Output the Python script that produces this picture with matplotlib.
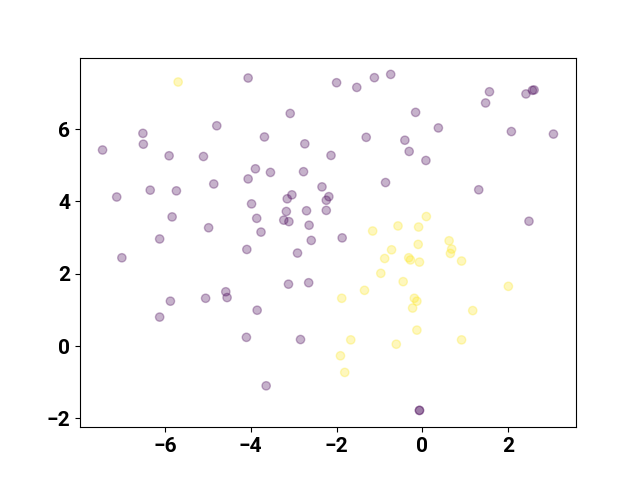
import numpy as np
import matplotlib
matplotlib.use("Agg")
import matplotlib.pyplot as plt

# cluster 0 (purple)
x_purple = [-4.06, -4.79, -6.51, -6.50, -7.45, -5.90, -5.10, -4.06, -4.86, -7.12,
            -6.34, -5.73, -3.98, -5.83, -4.98, -6.12, -4.09, -7.00, -5.87, -6.12,
            -5.05, -4.58, -4.55, -4.10, -2.00, -1.53, -1.12, -0.74, -3.08, -3.68,
            -2.74, -1.31, -0.41, -0.31, -2.13, -3.89, -3.54, -2.77, -0.86, -2.34,
            -3.04, -3.15, -2.18, -2.24, -3.17, -2.70, -2.24, -3.86, -3.23, -3.11,
            -2.64, -3.76, -2.59, -1.87, -2.91, -3.12, -2.65, -3.85, -2.84, -3.64,
            1.56, 1.47, 2.41, 2.56, 2.60, -0.16, 0.37, 0.08, 2.07, 3.05,
            1.31, 2.48, -0.07, -0.07]
y_purple = [7.41, 6.09, 5.88, 5.58, 5.42, 5.26, 5.24, 4.62, 4.48, 4.12,
            4.31, 4.29, 3.93, 3.57, 3.27, 2.96, 2.67, 2.44, 1.24, 0.80,
            1.32, 1.50, 1.34, 0.24, 7.28, 7.15, 7.42, 7.51, 6.43, 5.78,
            5.59, 5.77, 5.69, 5.38, 5.27, 4.90, 4.80, 4.82, 4.52, 4.40,
            4.18, 4.07, 4.13, 4.03, 3.72, 3.74, 3.75, 3.53, 3.48, 3.44,
            3.34, 3.15, 2.92, 2.99, 2.57, 1.71, 1.75, 0.99, 0.18, -1.10,
            7.03, 6.72, 6.97, 7.07, 7.08, 6.46, 6.03, 5.13, 5.93, 5.86,
            4.32, 3.45, -1.78, -1.78]

# cluster 1 (yellow)
x_yellow = [-5.69, -1.16, -0.57, -0.72, -0.88, -0.32, -0.28, -0.97, -0.45, -1.35,
            -1.88, -0.19, -0.13, -0.23, -1.67, -0.61, -1.91, -1.81, 0.09, -0.09,
            -0.10, 0.62, 0.68, 0.65, -0.07, 0.91, 2.00, 1.17, -0.13, 0.91]
y_yellow = [7.30, 3.18, 3.32, 2.66, 2.42, 2.44, 2.38, 2.01, 1.78, 1.54,
            1.32, 1.32, 1.24, 1.05, 0.17, 0.05, -0.27, -0.73, 3.58, 3.29,
            2.81, 2.91, 2.68, 2.56, 2.32, 2.35, 1.65, 0.98, 0.44, 0.17]

x = np.array(x_purple + x_yellow)
y = np.array(y_purple + y_yellow)
labels = np.array([0] * len(x_purple) + [1] * len(x_yellow))

plt.rcParams['font.family'] = ['Roboto', 'DejaVu Sans']

fig = plt.figure(figsize=(6.4, 4.8), dpi=100)
plt.scatter(x, y, c=labels, cmap='viridis', alpha=0.3)
plt.xticks(fontsize=15, fontweight='bold')
plt.yticks(fontsize=15, fontweight='bold')
plt.savefig("out.png")
